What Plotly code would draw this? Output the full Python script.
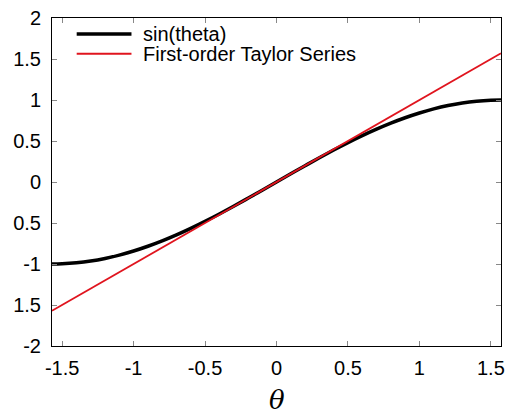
import plotly.graph_objects as go

theta = [-1.5708, -1.5, -1.4, -1.3, -1.2, -1.1, -1.0, -0.9, -0.8, -0.7, -0.6, -0.5, -0.4, -0.3, -0.2, -0.1, 0.0,
         0.1, 0.2, 0.3, 0.4, 0.5, 0.6, 0.7, 0.8, 0.9, 1.0, 1.1, 1.2, 1.3, 1.4, 1.5, 1.5708]
sin_vals = [-1.0, -0.9975, -0.9854, -0.9636, -0.9320, -0.8912, -0.8415, -0.7833, -0.7174, -0.6442, -0.5646, -0.4794,
            -0.3894, -0.2955, -0.1987, -0.0998, 0.0, 0.0998, 0.1987, 0.2955, 0.3894, 0.4794, 0.5646, 0.6442, 0.7174,
            0.7833, 0.8415, 0.8912, 0.9320, 0.9636, 0.9854, 0.9975, 1.0]
taylor_x = [-1.5708, 1.5708]
taylor_y = [-1.5708, 1.5708]

series_names = ["sin(theta)", "First-order Taylor Series"]
series_colors = ["black", "#e0141e"]
series_widths = [3.5, 1.8]

xtick_vals = [-1.5, -1, -0.5, 0, 0.5, 1, 1.5]
xtick_text = ["-1.5", "-1", "-0.5", "0", "0.5", "1", "1.5"]
ytick_vals = [-2, -1.5, -1, -0.5, 0, 0.5, 1, 1.5, 2]
ytick_text = ["-2", "1.5", "-1", "0.5", "0", "0.5", "1", "1.5", "2"]

fig = go.Figure()
fig.add_trace(go.Scatter(x=theta, y=sin_vals, mode="lines", name=series_names[0], showlegend=False,
                         line=dict(color=series_colors[0], width=series_widths[0], shape="spline")))
fig.add_trace(go.Scatter(x=taylor_x, y=taylor_y, mode="lines", name=series_names[1], showlegend=False,
                         line=dict(color=series_colors[1], width=series_widths[1])))

font = dict(family="Liberation Sans, Arial, sans-serif", size=20, color="black")

# manual legend (paper coordinates)
legend_rows = [0.951, 0.891]
for name, color, width, yy in zip(series_names, series_colors, series_widths, legend_rows):
    fig.add_shape(type="line", xref="paper", yref="paper", x0=0.055, x1=0.177, y0=yy, y1=yy,
                  line=dict(color=color, width=width))
    fig.add_annotation(xref="paper", yref="paper", x=0.199, y=yy, text=name, showarrow=False,
                       xanchor="left", yanchor="middle", font=font)

fig.add_annotation(xref="paper", yref="paper", x=0.5, y=0, yshift=-54, text="<i>θ</i>", showarrow=False,
                   xanchor="center", yanchor="middle",
                   font=dict(family="DejaVu Serif, serif", size=26, color="black"))

fig.update_layout(
    width=512, height=417,
    margin=dict(l=52, r=7, t=13, b=71),
    plot_bgcolor="white", paper_bgcolor="white",
    font=font,
    showlegend=False,
    xaxis=dict(range=[-1.5708, 1.5708], tickvals=xtick_vals, ticktext=xtick_text,
               showgrid=False, zeroline=False, showline=True, linecolor="black", linewidth=1,
               mirror="allticks", ticks="inside", ticklen=5, tickcolor="#888",
               tickfont=font, ticklabelstandoff=4),
    yaxis=dict(range=[-2, 2], tickvals=ytick_vals, ticktext=ytick_text,
               showgrid=False, zeroline=False, showline=True, linecolor="black", linewidth=1,
               mirror="allticks", ticks="inside", ticklen=5, tickcolor="#888",
               tickfont=font, ticklabelstandoff=6),
)
fig.write_html("out.html")
